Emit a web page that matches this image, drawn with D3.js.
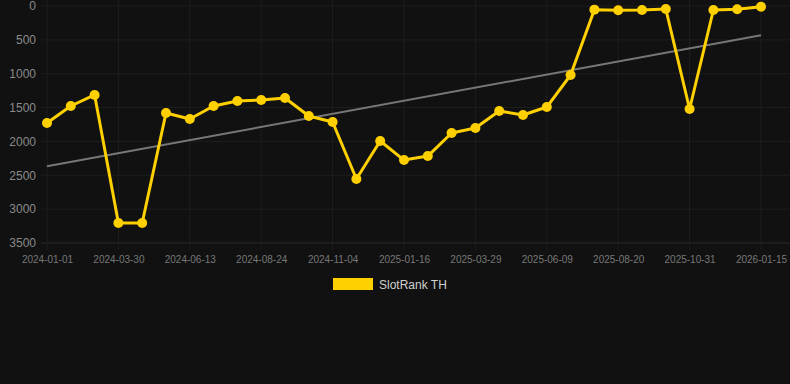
<!DOCTYPE html>
<html>
<head>
<meta charset="utf-8">
<script src="https://cdn.jsdelivr.net/npm/d3@7"></script>
<style>
html,body{margin:0;padding:0;background:#111111;}
svg{display:block;}
</style>
</head>
<body>
<svg id="chart" width="790" height="384"></svg>
<script>
const categories = ["2024-01-01","2024-01-30","2024-02-28","2024-03-30","2024-04-24","2024-05-19",
  "2024-06-13","2024-07-07","2024-07-31","2024-08-24","2024-09-17","2024-10-11",
  "2024-11-04","2024-11-28","2024-12-22","2025-01-16","2025-02-09","2025-03-05",
  "2025-03-29","2025-04-22","2025-05-16","2025-06-09","2025-07-03","2025-07-27",
  "2025-08-20","2025-09-13","2025-10-07","2025-10-31","2025-11-25","2025-12-20","2026-01-15"];
const rankValues = [1728,1477,1314,3205,3205,1580,1669,1477,1403,1388,1359,1625,
  1713,2555,1994,2275,2216,1876,1802,1551,1610,1492,1019,54,62,59,44,1521,59,49,10];
const yTicks = [0,500,1000,1500,2000,2500,3000,3500];
const xTickLabels = ["2024-01-01","2024-03-30","2024-06-13","2024-08-24","2024-11-04",
  "2025-01-16","2025-03-29","2025-06-09","2025-08-20","2025-10-31","2026-01-15"];
const seriesName = "SlotRank TH";

const svg = d3.select("#chart");
const gold = "#FFD000";

const x = d3.scalePoint().domain(categories).range([47, 761]);
const y = d3.scaleLinear().domain([0, 3500]).range([6, 243]);

// grid
const grid = svg.append("g");
grid.selectAll("line.h").data(yTicks).enter().append("line")
  .attr("x1", 41).attr("x2", 790)
  .attr("y1", d => y(d)).attr("y2", d => y(d))
  .attr("stroke", d => d === 3500 ? "#2a2a2a" : "#1e1e1e").attr("stroke-width", 1);
grid.selectAll("line.v").data(xTickLabels).enter().append("line")
  .attr("x1", d => x(d)).attr("x2", d => x(d))
  .attr("y1", 0).attr("y2", 250)
  .attr("stroke", "#1e1e1e").attr("stroke-width", 1);

// y axis labels
const yAxis = svg.append("g").attr("transform", "translate(36,0)")
  .call(d3.axisLeft(y).tickValues(yTicks).tickSize(0).tickPadding(0).tickFormat(d3.format("d")));
yAxis.select(".domain").remove();
yAxis.selectAll("text").attr("fill", "#8a8a8a").attr("font-size", 12)
  .attr("font-family", "Liberation Sans, Arial, sans-serif");

// x axis labels
const xAxis = svg.append("g").attr("transform", "translate(0,256)")
  .call(d3.axisBottom(x).tickValues(xTickLabels).tickSize(0).tickPadding(0));
xAxis.select(".domain").remove();
xAxis.selectAll("text").attr("fill", "#777").attr("font-size", 10)
  .attr("font-family", "Liberation Sans, Arial, sans-serif").attr("dy", "0.71em");

// trend line (least squares over index)
const n = rankValues.length;
const mi = (n - 1) / 2;
const mv = d3.mean(rankValues);
let num = 0, den = 0;
rankValues.forEach((v, i) => { num += (i - mi) * (v - mv); den += (i - mi) * (i - mi); });
const slope = num / den;
const icpt = mv - slope * mi;
const trend = [0, n - 1].map(i => ({c: categories[i], v: icpt + slope * i}));
svg.append("path").datum(trend)
  .attr("d", d3.line().x(d => x(d.c)).y(d => y(d.v)))
  .attr("fill", "none").attr("stroke", "#777").attr("stroke-width", 2);

// series line
const data = categories.map((c, i) => ({c, v: rankValues[i]}));
svg.append("path").datum(data)
  .attr("d", d3.line().x(d => x(d.c)).y(d => y(d.v)))
  .attr("fill", "none").attr("stroke", gold).attr("stroke-width", 3)
  .attr("stroke-linejoin", "round");
svg.selectAll("circle.pt").data(data).enter().append("circle")
  .attr("cx", d => x(d.c)).attr("cy", d => y(d.v)).attr("r", 5)
  .attr("fill", gold);

// legend
const lg = svg.append("g");
lg.append("rect").attr("x", 333).attr("y", 278).attr("width", 40).attr("height", 12).attr("fill", gold);
lg.append("text").attr("x", 379).attr("y", 289).text(seriesName)
  .attr("fill", "#d0d0d0").attr("font-size", 12)
  .attr("font-family", "Liberation Sans, Arial, sans-serif");
</script>
</body>
</html>
